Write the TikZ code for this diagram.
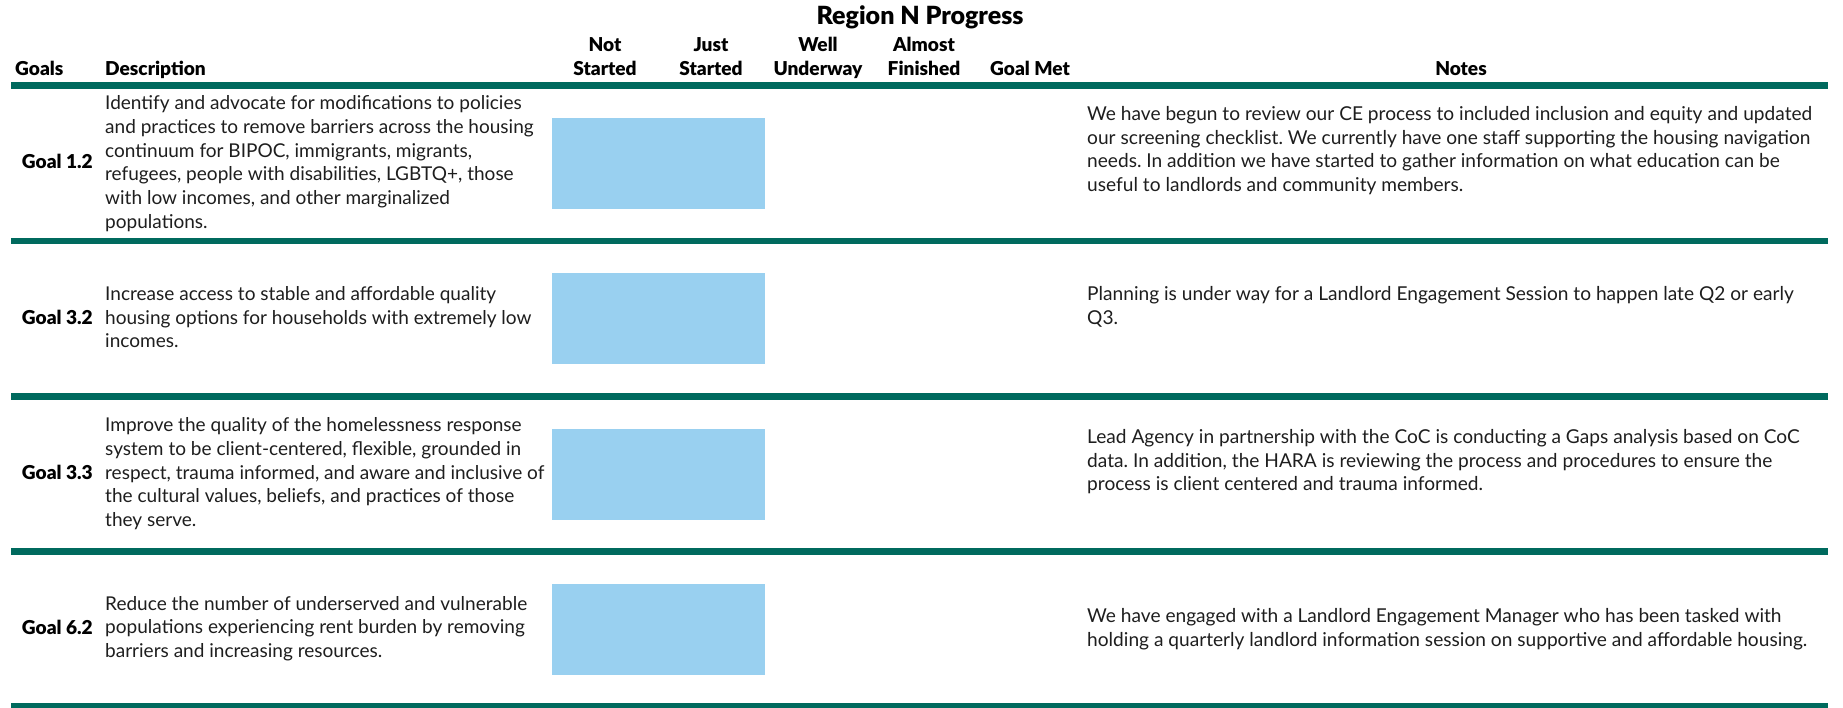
\documentclass[tikz,border=0pt]{standalone}
\usepackage{fontspec}
\setmainfont{Lato}
\newfontfamily\heavyfont{Lato-Black.ttf}
\definecolor{rowline}{RGB}{0,106,94}
\definecolor{barblue}{RGB}{153,208,240}
\definecolor{bodytext}{RGB}{30,30,30}
\frenchspacing
\newlength\fitlen
\newcommand\fitsize[3]{%
  \settowidth\fitlen{\normalfont\fontsize{10}{12}\selectfont #3}%
  \pgfmathsetmacro#1{10*#2/\the\fitlen}}
\begin{document}
\fitsize\bodysize{428.5}{and practices to remove barriers across the housing}%
\fitsize\notesize{725}{We have begun to review our CE process to included inclusion and equity and updated}%
\fitsize\headsize{100.6}{\heavyfont Description}%
\fitsize\titlesize{207}{\heavyfont Region N Progress}%
\begin{tikzpicture}[x=1pt,y=-1pt]
\tikzset{
  body/.style={font=\fontsize{\bodysize}{\bodysize}\selectfont, text=bodytext, inner sep=0pt, anchor=base west},
  note/.style={font=\fontsize{\notesize}{\notesize}\selectfont, text=bodytext, inner sep=0pt, anchor=base west},
  head/.style={font=\heavyfont\fontsize{\headsize}{\headsize}\selectfont, text=black, inner sep=0pt, anchor=base},
  headleft/.style={head, anchor=base west},
  goal/.style={head, anchor=base east},
  titletext/.style={font=\heavyfont\fontsize{\titlesize}{\titlesize}\selectfont, text=black, inner sep=0pt, anchor=base},
  rule/.style={line width=6.6pt, draw=rowline},
  bar/.style={fill=barblue, inner sep=0pt, minimum width=213pt, minimum height=91pt, anchor=north west}
}
\useasboundingbox (0,0) rectangle (1843,708);
\fill[white] (0,0) rectangle (1843,708);

% title and headers
\node[titletext] (title) at (920,25) {Region N Progress};
\node[headleft] (hgoals) at (15,75.5) {Goals};
\node[headleft] (hdesc) at (105,75.5) {Description};
\node[head] (hns1) at (605,52) {Not};
\node[head] (hns2) at (605,75.5) {Started};
\node[head] (hjs1) at (711,52) {Just};
\node[head] (hjs2) at (711,75.5) {Started};
\node[head] (hwu1) at (818,52) {Well};
\node[head] (hwu2) at (818,75.5) {Underway};
\node[head] (haf1) at (924,52) {Almost};
\node[head] (haf2) at (924,75.5) {Finished};
\node[head] (hgm) at (1030,75.5) {Goal Met};
\node[head] (hnotes) at (1461,75.5) {Notes};

% rules
\foreach \yy in {85.8,241,396.2,551.4,706.6}
  \draw[rule] (11,\yy) -- (1828,\yy);

% progress bars
\node[bar] (bar1) at (552,118) {};
\node[bar] (bar2) at (552,273) {};
\node[bar] (bar3) at (552,429) {};
\node[bar] (bar4) at (552,584) {};

% goal labels
\node[goal] (g1) at (93,169) {Goal 1.2};
\node[goal] (g2) at (93,324) {Goal 3.2};
\node[goal] (g3) at (93,479) {Goal 3.3};
\node[goal] (g4) at (93,634) {Goal 6.2};

% descriptions
\foreach \t [count=\i] in {{Identify and advocate for modifications to policies},
  {and practices to remove barriers across the housing},
  {continuum for BIPOC, immigrants, migrants,},
  {refugees, people with disabilities, LGBTQ+, those},
  {with low incomes, and other marginalized},
  {populations.}}
  \node[body] (d1-\i) at (105,{110+23.65*(\i-1)}) {\t};
\foreach \t [count=\i] in {{Increase access to stable and affordable quality},
  {housing options for households with extremely low},
  {incomes.}}
  \node[body] (d2-\i) at (105,{300.5+23.65*(\i-1)}) {\t};
\foreach \t [count=\i] in {{Improve the quality of the homelessness response},
  {system to be client-centered, flexible, grounded in},
  {respect, trauma informed, and aware and inclusive of},
  {the cultural values, beliefs, and practices of those},
  {they serve.}}
  \node[body] (d3-\i) at (105,{431.7+23.65*(\i-1)}) {\t};
\foreach \t [count=\i] in {{Reduce the number of underserved and vulnerable},
  {populations experiencing rent burden by removing},
  {barriers and increasing resources.}}
  \node[body] (d4-\i) at (105,{610+23.65*(\i-1)}) {\t};

% notes
\foreach \t [count=\i] in {{We have begun to review our CE process to included inclusion and equity and updated},
  {our screening checklist. We currently have one staff supporting the housing navigation},
  {needs. In addition we have started to gather information on what education can be},
  {useful to landlords and community members.}}
  \node[note] (n1-\i) at (1087,{120.7+23.65*(\i-1)}) {\t};
\foreach \t [count=\i] in {{Planning is under way for a Landlord Engagement Session to happen late Q2 or early},
  {Q3.}}
  \node[note] (n2-\i) at (1087,{300.5+23.65*(\i-1)}) {\t};
\foreach \t [count=\i] in {{Lead Agency in partnership with the CoC is conducting a Gaps analysis based on CoC},
  {data. In addition, the HARA is reviewing the process and procedures to ensure the},
  {process is client centered and trauma informed.}}
  \node[note] (n3-\i) at (1087,{443.5+23.65*(\i-1)}) {\t};
\foreach \t [count=\i] in {{We have engaged with a Landlord Engagement Manager who has been tasked with},
  {holding a quarterly landlord information session on supportive and affordable housing.}}
  \node[note] (n4-\i) at (1087,{622.5+23.65*(\i-1)}) {\t};
\end{tikzpicture}
\end{document}
